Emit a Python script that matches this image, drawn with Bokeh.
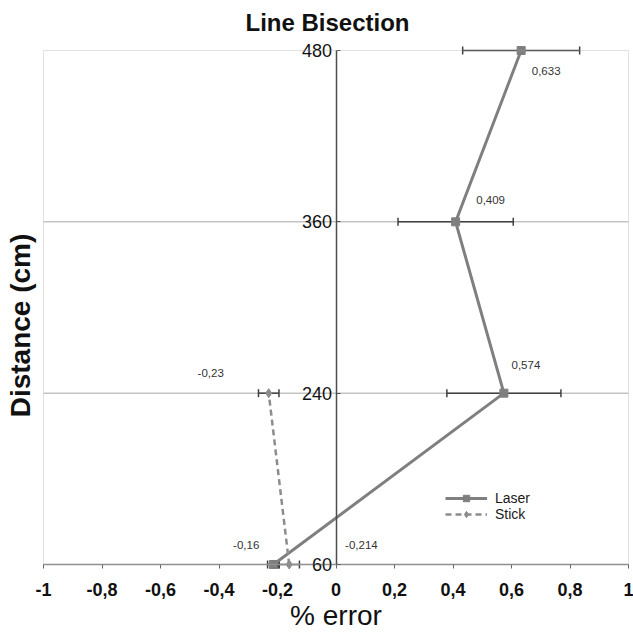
from bokeh.plotting import figure
from bokeh.models import (Range1d, FixedTicker, Whisker, ColumnDataSource, BoxAnnotation,
                          LabelSet, Label, Legend, LegendItem, TeeHead)
from bokeh.core.properties import value
from bokeh.embed import file_html
from bokeh.resources import INLINE

# ---- data ----
distance_labels = ["60", "240", "360", "480"]
laser_error = [-0.214, 0.574, 0.409, 0.633]
laser_sd = [0.02, 0.195, 0.197, 0.2]
stick_distances = ["60", "240"]
stick_error = [-0.16, -0.23]
stick_sd = [0.035, 0.035]
x_ticks = [-1, -0.8, -0.6, -0.4, -0.2, 0, 0.2, 0.4, 0.6, 0.8, 1]
x_tick_labels = ["-1", "-0,8", "-0,6", "-0,4", "-0,2", "0", "0,2", "0,4", "0,6", "0,8", "1"]

# label placement (screen px offsets from the point)
laser_lbl_dx = [88, 22, 35, 25]
laser_lbl_dy = [20, 28, 22, -20]
stick_lbl_dx = [-43, -58]
stick_lbl_dy = [20, 20]

FONT = "Liberation Sans"
ypos = {lab: i for i, lab in enumerate(distance_labels)}
y_ticks = list(range(len(distance_labels)))

def fmt(v):
    return f"{v}".replace(".", ",")

# ---- layout (pixels) ----
W, H = 633, 632
TOP = 38                      # title band
PAD_L, PAD_R = 43, 5          # room around the x data extent inside the frame
PAD_T, PAD_B = 12, 68         # room around the y data extent inside the frame
x_lo, x_hi = x_ticks[0], x_ticks[-1]
y_lo, y_hi = y_ticks[0], y_ticks[-1]
ppu_x = (W - PAD_L - PAD_R) / (x_hi - x_lo)
ppu_y = (H - TOP - PAD_T - PAD_B) / (y_hi - y_lo)

p = figure(width=W, height=H, output_backend="svg", toolbar_location=None,
           x_range=Range1d(x_lo - PAD_L / ppu_x, x_hi + PAD_R / ppu_x),
           y_range=Range1d(y_lo - PAD_B / ppu_y, y_hi + PAD_T / ppu_y),
           min_border_left=0, min_border_right=0, min_border_top=TOP, min_border_bottom=0)

p.title.text = "Line Bisection"
p.title.align = "left"
p.title.offset = 245
p.title.standoff = 6
p.title.text_font = FONT
p.title.text_font_size = "24px"
p.title.text_font_style = "bold"
p.title.text_color = "#111111"

p.outline_line_color = None
p.xgrid.visible = False
p.ygrid.visible = False

# plot-area box and horizontal grid lines
p.add_layout(BoxAnnotation(left=x_lo, right=x_hi, bottom=y_lo, top=y_hi,
                           fill_alpha=0, line_color="#a0a0a0", line_width=1))
inner = y_ticks[1:-1]
p.segment(x0=[x_lo] * len(inner), x1=[x_hi] * len(inner), y0=inner, y1=inner,
          line_color="#a6a6a6", line_width=1, level="underlay")

# x axis at y = 0 (the 60 cm line)
xa = p.xaxis[0]
xa.fixed_location = y_lo
xa.bounds = (x_lo, x_hi)
xa.ticker = FixedTicker(ticks=x_ticks)
xa.major_label_overrides = dict(zip(x_ticks, x_tick_labels))
xa.axis_line_color = "#8c8c8c"
xa.axis_line_width = 1.5
xa.major_tick_line_color = "#666666"
xa.major_tick_out = 4
xa.major_tick_in = 0
xa.minor_tick_line_color = None
xa.major_label_text_font = FONT
xa.major_label_text_font_size = "18px"
xa.major_label_text_font_style = "bold"
xa.major_label_text_color = "#111111"
xa.major_label_standoff = 14

# y axis drawn at x = 0 (centre of the plot)
ya = p.yaxis[0]
ya.fixed_location = 0
ya.bounds = (y_lo, y_hi)
ya.ticker = FixedTicker(ticks=y_ticks)
ya.major_label_overrides = dict(zip(y_ticks, distance_labels))
ya.axis_line_color = "#4d4d4d"
ya.axis_line_width = 1.5
ya.major_tick_line_color = "#4d4d4d"
ya.major_tick_in = 4
ya.major_tick_out = 0
ya.minor_tick_line_color = None
ya.major_label_text_font = FONT
ya.major_label_text_font_size = "18px"
ya.major_label_text_color = "#111111"
ya.major_label_standoff = 4

# axis titles
p.add_layout(Label(x=0, y=17, x_units="data", y_units="screen", text="% error",
                   text_align="center", text_baseline="middle",
                   text_font=FONT, text_font_size="28px", text_color="#111111"))
p.add_layout(Label(x=20, y=307, x_units="screen", y_units="screen", text="Distance (cm)",
                   angle=90, angle_units="deg", text_align="center", text_baseline="middle",
                   text_font=FONT, text_font_size="28px", text_font_style="bold",
                   text_color="#111111"))

# ---- series ----
laser_y = [ypos[d] for d in distance_labels]
stick_y = [ypos[d] for d in stick_distances]

laser_src = ColumnDataSource(dict(
    x=laser_error, y=laser_y,
    lower=[v - s for v, s in zip(laser_error, laser_sd)],
    upper=[v + s for v, s in zip(laser_error, laser_sd)],
    text=[fmt(v) for v in laser_error], dx=laser_lbl_dx, dy=laser_lbl_dy))
stick_src = ColumnDataSource(dict(
    x=stick_error, y=stick_y,
    lower=[v - s for v, s in zip(stick_error, stick_sd)],
    upper=[v + s for v, s in zip(stick_error, stick_sd)],
    text=[fmt(v) for v in stick_error], dx=stick_lbl_dx, dy=stick_lbl_dy))

for src in (laser_src, stick_src):
    p.add_layout(Whisker(base="y", lower="lower", upper="upper", dimension="width",
                         source=src, line_color="#404040", line_width=1.5,
                         upper_head=TeeHead(size=8, line_color="#404040", line_width=1.5),
                         lower_head=TeeHead(size=8, line_color="#404040", line_width=1.5)))

l_line = p.line("x", "y", source=laser_src, line_color="#7f7f7f", line_width=3)
l_mark = p.scatter("x", "y", source=laser_src, marker="square", size=8,
                   fill_color="#7f7f7f", line_color="#7f7f7f")
s_line = p.line("x", "y", source=stick_src, line_color="#8c8c8c", line_width=2.5,
                line_dash="6 4")
s_mark = p.scatter("x", "y", source=stick_src, marker="diamond", size=9,
                   fill_color="#8c8c8c", line_color="#8c8c8c")

for src in (laser_src, stick_src):
    p.add_layout(LabelSet(x="x", y="y", text="text", source=src,
                          x_offset="dx", y_offset="dy",
                          text_align="center", text_baseline="middle",
                          text_font=value(FONT), text_font_size=value("11.5px"),
                          text_color="#333333"))

legend = Legend(items=[LegendItem(label="Laser", renderers=[l_line, l_mark]),
                       LegendItem(label="Stick", renderers=[s_line, s_mark])],
                location=(445, 110), orientation="vertical",
                glyph_width=42, glyph_height=16, label_height=16, spacing=0,
                padding=0, margin=0, label_standoff=8,
                label_text_font=FONT, label_text_font_size="14px",
                label_text_color="#1a1a1a",
                background_fill_alpha=0, border_line_color=None)
p.add_layout(legend)

open("out.html", "w").write(file_html(p, INLINE))
